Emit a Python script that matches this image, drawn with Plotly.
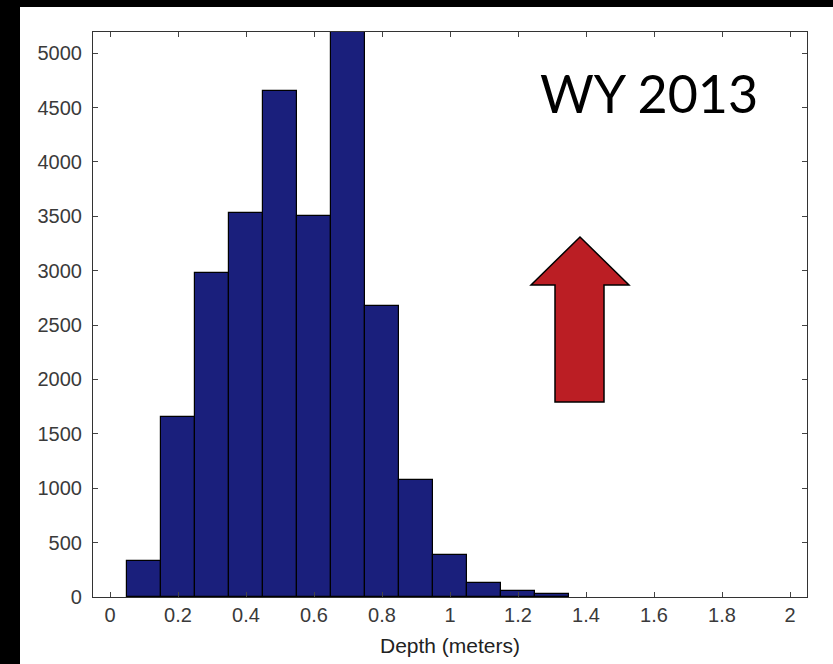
import plotly.graph_objects as go

# Data
depth_centers = [0.1, 0.2, 0.3, 0.4, 0.5, 0.6, 0.7, 0.8, 0.9, 1.0, 1.1, 1.2, 1.3]
counts = [335, 1655, 2975, 3535, 4650, 3505, 5300, 2675, 1080, 385, 125, 55, 25]
x_ticks = [0, 0.2, 0.4, 0.6, 0.8, 1, 1.2, 1.4, 1.6, 1.8, 2]
x_tick_text = ["0", "0.2", "0.4", "0.6", "0.8", "1", "1.2", "1.4", "1.6", "1.8", "2"]
y_ticks = [0, 500, 1000, 1500, 2000, 2500, 3000, 3500, 4000, 4500, 5000]
label_text = "WY 2013"

W, H = 833, 664
L, R, T, B = 93, 26, 32, 67
pw, ph = W - L - R, H - T - B


def px(x):
    return (x - L) / pw


def py(y):
    return (H - B - y) / ph


fig = go.Figure()
fig.add_trace(go.Bar(
    x=depth_centers, y=counts, width=0.1,
    marker=dict(color="#1a1f7c", line=dict(color="#000000", width=1.2)),
    showlegend=False,
))

axis_common = dict(
    showline=True, linecolor="#333333", linewidth=1.2, mirror="ticks",
    ticks="inside", ticklen=5, tickcolor="#444444", tickwidth=1,
    showgrid=False, zeroline=False, automargin=False,
    tickfont=dict(family="Liberation Sans, Arial", size=20, color="#3a3a3a"),
)

fig.update_xaxes(range=[-0.05, 2.05], tickvals=x_ticks, ticktext=x_tick_text,
                 title=dict(text="Depth (meters)", standoff=13,
                            font=dict(family="Liberation Sans, Arial", size=21, color="#222222")),
                 **axis_common)
fig.update_yaxes(range=[0, 5195], tickvals=y_ticks, ticklabelstandoff=6, **axis_common)

# Arrow (decoration) in paper coordinates
pts = [(580, 237), (629, 285), (604, 285), (604, 402), (555, 402), (555, 285), (531, 285)]
path = "M " + " L ".join(f"{px(a):.5f},{py(b):.5f}" for a, b in pts) + " Z"
shapes = [
    dict(type="path", xref="paper", yref="paper", path=path,
         fillcolor="#bb1e24", line=dict(color="#000000", width=1.5), layer="above"),
    # black frame strips of the photo
    dict(type="rect", xref="paper", yref="paper", x0=px(0), x1=px(20), y0=py(H), y1=py(0),
         fillcolor="black", line=dict(width=0), layer="above"),
    dict(type="rect", xref="paper", yref="paper", x0=px(0), x1=px(W), y0=py(7), y1=py(0),
         fillcolor="black", line=dict(width=0), layer="above"),
]

fig.update_layout(
    width=W, height=H,
    margin=dict(l=L, r=R, t=T, b=B),
    paper_bgcolor="white", plot_bgcolor="white",
    bargap=0,
    shapes=shapes,
    annotations=[dict(text=label_text, xref="paper", yref="paper",
                      x=px(538), y=py(93), xanchor="left", yanchor="middle",
                      showarrow=False,
                      font=dict(family="Lato, Open Sans", size=52, color="#000000"))],
)

fig.write_html(
    "out.html",
    config={"displayModeBar": False},
    post_script="document.body.style.margin='0';document.body.style.overflow='hidden';",
)
